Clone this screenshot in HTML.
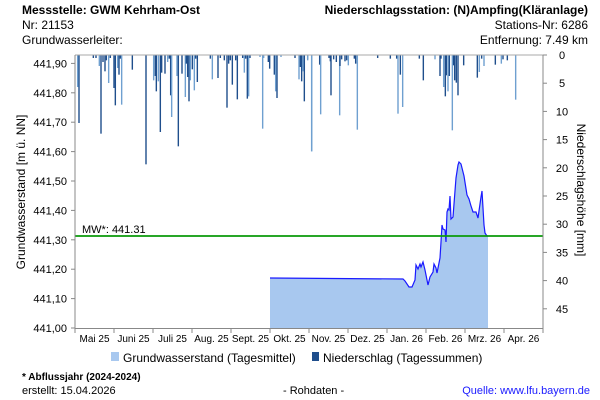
<!DOCTYPE html>
<html><head><meta charset="utf-8"><style>
body{margin:0;background:#fff;}
svg{display:block;font-family:"Liberation Sans",sans-serif;}
</style></head><body>
<svg width="600" height="400" xmlns="http://www.w3.org/2000/svg">
<rect width="600" height="400" fill="#fff"/>
<g font-size="12" fill="#000">
<text x="22" y="14" font-weight="bold" font-size="12">Messstelle: GWM Kehrham-Ost</text>
<text x="22" y="29">Nr: 21153</text>
<text x="22" y="44">Grundwasserleiter:</text>
<text x="588" y="14" text-anchor="end" font-weight="bold">Niederschlagsstation: (N)Ampfing(Kläranlage)</text>
<text x="588" y="29" text-anchor="end">Stations-Nr: 6286</text>
<text x="588" y="44" text-anchor="end">Entfernung: 7.49 km</text>
</g>
<!-- area -->
<polygon fill="#a8c8ef" points="270,328 270,278 403,279 405,281 409,287 412,287 415,280 416,265 418,269 420,264 421,267 423,262 425,270 428,285 430,277 433,272 434,264 436,268 437,273 440,258 441,242 442,225 443,229 445,230 446,242 447,212 448,209 449,210 450,196 451,219 453,217 456,178 458,165 459,162 461,164 463,172 464,176 467,195 469,199 471,206 473,212 476,212 478,218 481,197 482,191 484,225 485,233 487,236 488,236 488,328"/>
<polyline fill="none" stroke="#1a1aff" stroke-width="1.2" points="270,278 403,279 405,281 409,287 412,287 415,280 416,265 418,269 420,264 421,267 423,262 425,270 428,285 430,277 433,272 434,264 436,268 437,273 440,258 441,242 442,225 443,229 445,230 446,242 447,212 448,209 449,210 450,196 451,219 453,217 456,178 458,165 459,162 461,164 463,172 464,176 467,195 469,199 471,206 473,212 476,212 478,218 481,197 482,191 484,225 485,233 487,236 488,236"/>
<line x1="75" y1="236" x2="543" y2="236" stroke="#0a9a0a" stroke-width="1.8"/>
<text x="82" y="233" font-size="11">MW*: 441.31</text>
<g id="bars"></g>
<!-- axes -->
<g stroke="#888" stroke-width="1" fill="none">
<line x1="75" y1="55" x2="543" y2="55" stroke="#aaa"/>
<line x1="75" y1="55" x2="75" y2="328"/>
<line x1="543" y1="55" x2="543" y2="328"/>
<line x1="75" y1="328.5" x2="543" y2="328.5"/>
</g>
<g id="ticks" stroke="#888"></g>
<g id="labels" font-size="11"></g>
<text transform="translate(25,192) rotate(-90)" text-anchor="middle" font-size="12">Grundwasserstand [m ü. NN]</text>
<text transform="translate(577,190) rotate(90)" text-anchor="middle" font-size="12">Niederschlagshöhe [mm]</text>
<rect x="111" y="352" width="8" height="9" fill="#a8c8ef"/>
<text x="123" y="362" font-size="12">Grundwasserstand (Tagesmittel)</text>
<rect x="312" y="352" width="7" height="9" fill="#1f4e8c"/>
<text x="323" y="362" font-size="12">Niederschlag (Tagessummen)</text>
<text x="22" y="380" font-size="10" font-weight="bold">* Abflussjahr (2024-2024)</text>
<text x="22" y="394" font-size="11">erstellt:  15.04.2026</text>
<text x="283" y="394" font-size="11">- Rohdaten -</text>
<text x="590" y="394" font-size="11" fill="#1a1aff" text-anchor="end">Quelle: www.lfu.bayern.de</text>
</svg>
<script>
var NS="http://www.w3.org/2000/svg";
function el(p,t,a,txt){var e=document.createElementNS(NS,t);for(var k in a)e.setAttribute(k,a[k]);if(txt)e.textContent=txt;p.appendChild(e);return e;}
var bars=document.getElementById('bars');
var z3=[[8,105,'l'],[12,213,'d'],[55,18,'d'],[63,18,'d'],[73,42,'l'],[78,245,'d'],[84,30,'d'],[90,58,'d'],[94,25,'d'],[101,93,'l'],[106,18,'d'],[117,108,'d'],[121,160,'d'],[128,48,'l'],[132,68,'d'],[136,20,'d'],[140,158,'l'],[172,53,'d'],[213,337,'d'],[236,85,'l'],[241,72,'d'],[244,118,'d'],[250,88,'l'],[256,240,'d'],[260,62,'d'],[270,65,'d'],[278,30,'l'],[283,20,'d'],[287,130,'d'],[290,195,'l'],[306,72,'l'],[310,283,'d'],[321,65,'d'],[331,135,'l'],[334,35,'d'],[338,75,'d'],[342,148,'d'],[346,85,'l'],[352,52,'d'],[358,115,'l'],[362,20,'d'],[367,90,'d'],[406,20,'d'],[412,82,'l'],[429,78,'d'],[436,18,'d'],[448,25,'d'],[456,167,'d'],[461,35,'d'],[466,25,'d'],[472,98,'d'],[482,25,'d'],[487,142,'d'],[503,18,'d'],[508,62,'l'],[512,20,'d'],[517,140,'d'],[521,133,'l'],[525,18,'d'],[555,15,'l'],[563,230,'l'],[566,18,'l'],[580,30,'d'],[584,50,'d'],[598,68,'d'],[602,118,'l'],[606,138,'d'],[618,15,'l'],[660,18,'d'],[672,82,'l'],[676,45,'d'],[680,88,'d'],[684,58,'l'],[688,148,'d'],[698,22,'l'],[710,298,'l']];
var z4=[[8,25,'l'],[20,298,'l'],[44,38,'d'],[47,187,'l'],[72,18,'d'],[76,28,'d'],[78,130,'d'],[86,22,'d'],[94,30,'d'],[104,190,'l'],[105,42,'d'],[110,22,'d'],[120,28,'d'],[125,25,'d'],[130,40,'l'],[148,20,'d'],[152,35,'d'],[157,233,'l'],[218,18,'d'],[256,20,'d'],[275,20,'d'],[279,185,'l'],[286,68,'d'],[293,165,'l'],[343,20,'d'],[355,85,'d'],[390,22,'l'],[405,72,'d'],[408,20,'d'],[416,105,'l'],[421,133,'d'],[424,70,'d'],[429,118,'l'],[433,72,'d'],[442,235,'l'],[446,40,'d'],[449,85,'d'],[454,92,'d'],[459,130,'d'],[476,40,'d'],[517,77,'d'],[523,60,'l'],[530,20,'d'],[537,42,'l'],[571,38,'d'],[589,35,'l'],[594,22,'d'],[607,25,'d'],[632,143,'l']];
function add(list,ox){list.forEach(function(b){var x=ox+b[0]/3,y=52+b[1]/3;el(bars,'rect',{x:x-0.7,y:55,width:1.4,height:Math.max(0.8,y-55),fill:b[2]=='d'?'#1f4e8c':'#6fa0d0'});});}
add(z3,75);add(z4,305);
var tk=document.getElementById('ticks'),lb=document.getElementById('labels');
for(var i=0;i<=9;i++){var y=328-i*29.4;el(tk,'line',{x1:71,y1:y,x2:75,y2:y});el(lb,'text',{x:67,y:y+4,'text-anchor':'end'},'441,'+(i==0?'00':i+'0'));}
for(var m=0;m<=45;m+=5){var y=55+m*5.64;el(tk,'line',{x1:543,y1:y,x2:547,y2:y});el(lb,'text',{x:562,y:y+4,'text-anchor':'middle'},String(m));}
var mon=['Mai 25','Juni 25','Juli 25','Aug. 25','Sept. 25','Okt. 25','Nov. 25','Dez. 25','Jan. 26','Feb. 26','Mrz. 26','Apr. 26'];
for(var k=0;k<=12;k++){var x=75+k*39;el(tk,'line',{x1:x,y1:328,x2:x,y2:333});if(k<12)el(lb,'text',{x:x+19.5,y:342,'text-anchor':'middle','font-size':'10'},mon[k]);}
</script>
</body></html>
